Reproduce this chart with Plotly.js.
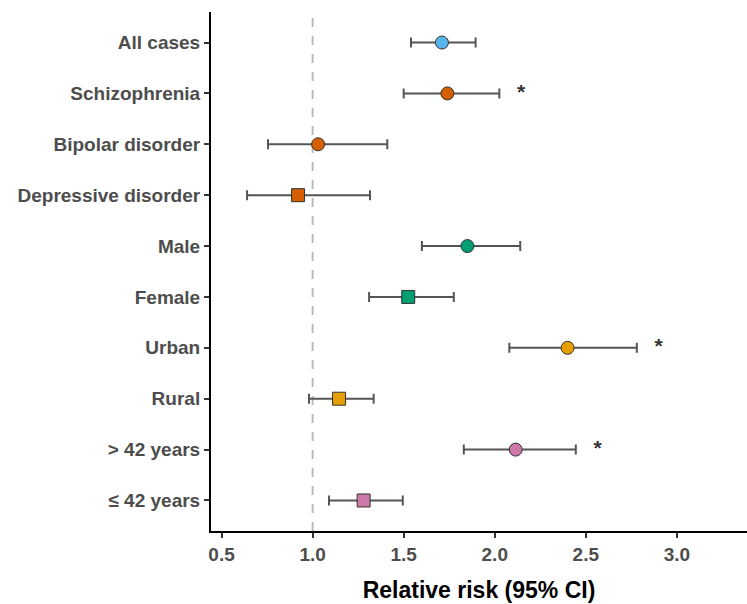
<!DOCTYPE html>
<html>
<head>
<meta charset="utf-8">
<script src="https://cdn.plot.ly/plotly-3.0.1.min.js"></script>
<style>html,body{margin:0;padding:0;background:#fff;}#chart{width:747px;height:604px;}</style>
</head>
<body>
<div id="chart"></div>
<script>
const labels = ["All cases", "Schizophrenia", "Bipolar disorder", "Depressive disorder", "Male", "Female", "Urban", "Rural", "> 42 years", "\u2264 42 years"];
const rr    = [1.71, 1.74, 1.03, 0.92, 1.85, 1.525, 2.40, 1.145, 2.115, 1.28];
const lower = [1.54, 1.50, 0.755, 0.64, 1.60, 1.31, 2.08, 0.98, 1.83, 1.09];
const upper = [1.895, 2.025, 1.41, 1.315, 2.14, 1.775, 2.78, 1.335, 2.445, 1.495];
const significant = [false, true, false, false, false, false, true, false, true, false];
const groupColors = ["#56B4E9", "#D55E00", "#D55E00", "#D55E00", "#009E73", "#009E73", "#E69F00", "#E69F00", "#CC79A7", "#CC79A7"];
const symbols = ["circle", "circle", "circle", "square", "circle", "square", "circle", "square", "circle", "square"];
const xTicks = [0.5, 1.0, 1.5, 2.0, 2.5, 3.0];
const xTickText = ["0.5", "1.0", "1.5", "2.0", "2.5", "3.0"];

const starOffset = 0.12;
const starX = [], starY = [];
labels.forEach((l, i) => { if (significant[i]) { starX.push(upper[i] + starOffset); starY.push(l); } });

const traces = [
  {
    type: "scatter", mode: "markers",
    x: rr, y: labels,
    error_x: {
      type: "data", symmetric: false,
      array: rr.map((v, i) => upper[i] - v),
      arrayminus: rr.map((v, i) => v - lower[i]),
      color: "#555555", thickness: 2, width: 5
    },
    marker: { color: groupColors, symbol: symbols, size: 13, line: { color: "#333333", width: 1 } },
    hoverinfo: "skip", showlegend: false
  },
  {
    type: "scatter", mode: "text",
    x: starX, y: starY, text: starX.map(() => "*"),
    textposition: "middle center",
    textfont: { family: "Liberation Sans, Arial, sans-serif", size: 21, color: "#333333", weight: "bold" },
    hoverinfo: "skip", showlegend: false
  }
];

const layout = {
  width: 747, height: 604,
  margin: { l: 211, r: 0, t: 12, b: 73 },
  paper_bgcolor: "#ffffff", plot_bgcolor: "#ffffff",
  font: { family: "Liberation Sans, Arial, sans-serif" },
  showlegend: false,
  xaxis: {
    range: [0.442, 3.385],
    tickvals: xTicks, ticktext: xTickText,
    ticks: "outside", ticklen: 5, tickwidth: 2, tickcolor: "#333333",
    tickfont: { size: 19, color: "#4D4D4D", weight: "bold" },
    showgrid: false, zeroline: false,
    showline: true, linecolor: "#000000", linewidth: 2,
    title: { text: "Relative risk (95% CI)", font: { size: 23, color: "#000000", weight: "bold" }, standoff: 18 }
  },
  yaxis: {
    type: "category", categoryorder: "array", categoryarray: labels,
    range: [9.6, -0.6],
    ticks: "outside", ticklen: 5, tickwidth: 2, tickcolor: "#333333",
    tickfont: { size: 19, color: "#4D4D4D", weight: "bold" },
    showgrid: false, zeroline: false,
    showline: true, linecolor: "#000000", linewidth: 2
  },
  shapes: [{
    type: "line", xref: "x", yref: "paper", x0: 1, x1: 1, y0: 0, y1: 1,
    line: { color: "#BBBBBB", width: 2, dash: "dash" }, layer: "below"
  }]
};

Plotly.newPlot("chart", traces, layout, { displayModeBar: false, staticPlot: true });
</script>
</body>
</html>
